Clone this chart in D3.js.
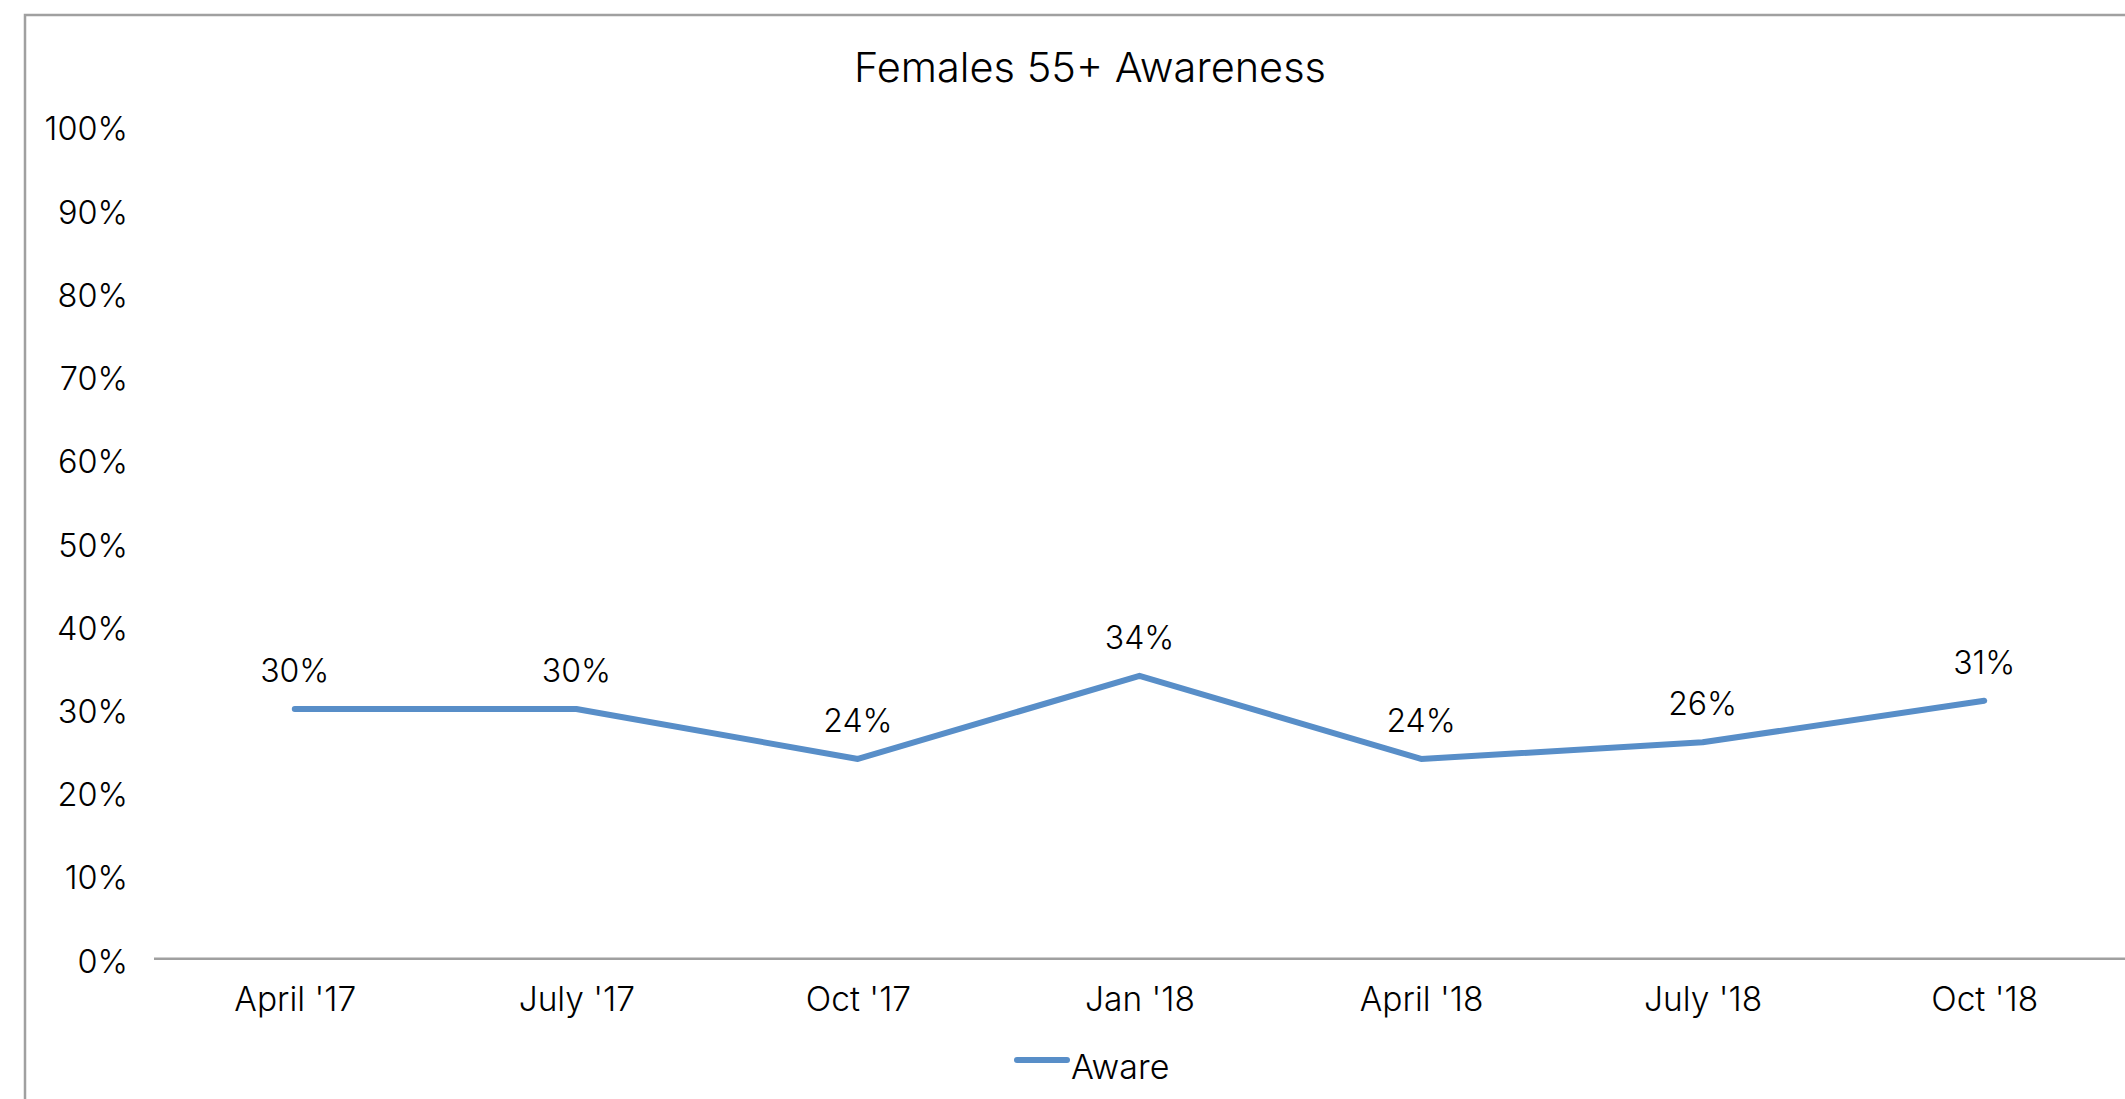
<!DOCTYPE html>
<html>
<head>
<meta charset="utf-8">
<script src="https://cdn.jsdelivr.net/npm/d3@7"></script>
<style>
  body { margin: 0; background: #fff; }
  text { font-family: Inter, "Open Sans", sans-serif; fill: #000; font-weight: 300; }
</style>
</head>
<body>
<div id="chart"></div>
<script>
// Chart data
let categories = ["April '17", "July '17", "Oct '17", "Jan '18", "April '18", "July '18", "Oct '18"];
let aware = [30, 30, 24, 34, 24, 26, 31];
let yTicks = [0, 10, 20, 30, 40, 50, 60, 70, 80, 90, 100];
let seriesName = "Aware";
let title = "Females 55+ Awareness";

let width = 2125, height = 1099;
let lineColor = "#588ec8";

let svg = d3.select("#chart").append("svg")
	.attr("width", width)
	.attr("height", height);

// chart frame
svg.append("rect")
	.attr("x", 25).attr("y", 15)
	.attr("width", width + 40).attr("height", height + 40)
	.attr("fill", "none")
	.attr("stroke", "#a0a0a0")
	.attr("stroke-width", 2.5);

let plot = { left: 154, right: 2125, top: 126.5, bottom: 958.7 };

let x = d3.scalePoint()
	.domain(categories)
	.range([plot.left, plot.right])
	.padding(0.5);

let y = d3.scaleLinear()
	.domain([0, 100])
	.range([plot.bottom, plot.top]);

// title
svg.append("text")
	.attr("x", 1090).attr("y", 82)
	.attr("text-anchor", "middle")
	.style("font-size", "41.5px")
	.text(title);

// y axis labels
let yAxis = svg.append("g")
	.attr("transform", "translate(" + plot.left + ",3)")
	.call(d3.axisLeft(y).tickValues(yTicks).tickFormat(d => d + "%").tickSize(0).tickPadding(26));
yAxis.select(".domain").remove();
yAxis.selectAll("text").style("font-size", "32.5px");

// x axis
let xAxis = svg.append("g")
	.attr("transform", "translate(0," + plot.bottom + ")")
	.call(d3.axisBottom(x).tickSize(0).tickPadding(29));
xAxis.select(".domain")
	.attr("stroke", "#a0a0a0")
	.attr("stroke-width", 2.5)
	.attr("d", "M" + plot.left + ",0H" + plot.right);
xAxis.selectAll("text").style("font-size", "33.5px");

// series line
let line = d3.line()
	.x((d, i) => x(categories[i]))
	.y(d => y(d));

svg.append("path")
	.datum(aware)
	.attr("d", line)
	.attr("fill", "none")
	.attr("stroke", lineColor)
	.attr("stroke-width", 6)
	.attr("stroke-linecap", "round")
	.attr("stroke-linejoin", "round");

// data labels
svg.selectAll(".lbl")
	.data(aware)
	.enter().append("text")
	.attr("class", "lbl")
	.attr("x", (d, i) => x(categories[i]))
	.attr("y", d => y(d) - 27)
	.attr("text-anchor", "middle")
	.style("font-size", "32px")
	.text(d => d + "%");

// legend
let legend = svg.append("g");
legend.append("line")
	.attr("x1", 1017).attr("x2", 1067)
	.attr("y1", 1060).attr("y2", 1060)
	.attr("stroke", lineColor)
	.attr("stroke-width", 6)
	.attr("stroke-linecap", "round");
legend.append("text")
	.attr("x", 1071).attr("y", 1079)
	.style("font-size", "34px")
	.text(seriesName);
</script>
</body>
</html>
